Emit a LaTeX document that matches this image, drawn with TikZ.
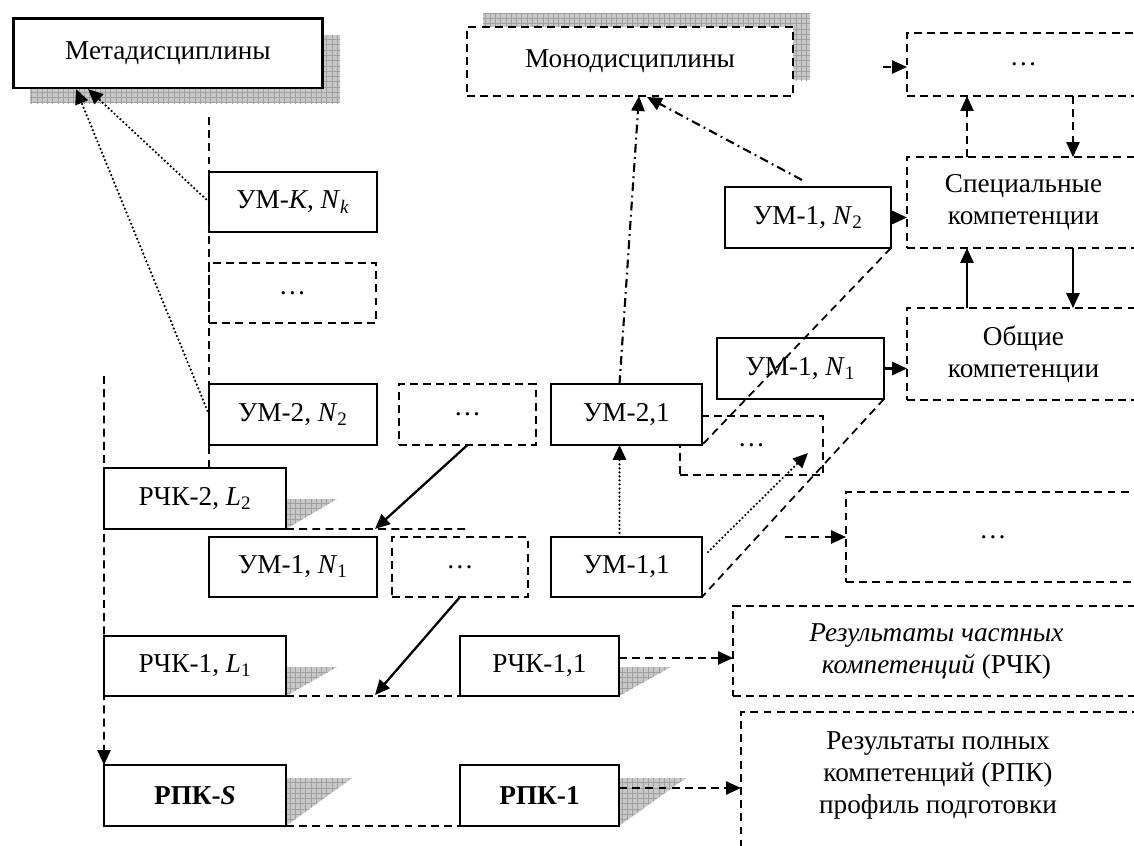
\documentclass[tikz,border=0pt]{standalone}
\usepackage{fontspec}
\setmainfont{Liberation Serif}
\usepackage{xcolor}
\definecolor{tengray}{RGB}{200, 200, 200}
\definecolor{setkagray}{RGB}{160, 160, 160}
\usetikzlibrary{arrows.meta, calc, patterns}

\begin{document}
\begin{tikzpicture}[x=0.02cm, y=-0.02cm, >={Triangle[length=8.5pt, width=7.5pt]},
    every node/.style={font=\fontsize{15.5}{18.2}\selectfont, inner sep=0pt, outer sep=0pt},
    solidbox/.style={draw, line width=1.1pt, fill=white, align=center},
    dashbox/.style={draw, line width=1pt, dash pattern=on 4.5pt off 3pt, fill=white, align=center},
    dashline/.style={line width=1pt, dash pattern=on 4.5pt off 3pt},
    dotline/.style={line width=1.4pt, line cap=round, dash pattern=on 0pt off 2.3pt},
    dashdotline/.style={line width=1.2pt, dash pattern=on 5pt off 2.5pt on 1pt off 2.5pt},
    shadowbox/.style={preaction={fill=tengray}, pattern=grid, pattern color=setkagray}]

\useasboundingbox (0,0) rectangle (1134,846);

% === Тени ===
\path[shadowbox] (30,35) rectangle (340,103);
\path[shadowbox] (483,13) rectangle (810,80);
\path[shadowbox] (286,499) -- (337,499) -- (286,529) -- cycle;
\path[shadowbox] (286,667) -- (337,667) -- (286,696) -- cycle;
\path[shadowbox] (286,778) -- (352,778) -- (286,826) -- cycle;
\path[shadowbox] (619,667) -- (671,667) -- (619,696) -- cycle;
\path[shadowbox] (619,778) -- (686,778) -- (619,826) -- cycle;

% === Дисциплины ===
\node[solidbox, line width=1.7pt, minimum width=6.2cm, minimum height=1.4cm] (meta) at (168,53) {Метадисциплины};
\node[dashbox, minimum width=6.52cm, minimum height=1.38cm] (mono) at (630,61.5) {Монодисциплины};

% === Компетенции (справа) ===
\node[dashbox, minimum width=4.66cm, minimum height=1.26cm] (topdots) at (1023.5,64.5) {…};
\node[dashbox, minimum width=4.66cm, minimum height=1.82cm] (spec) at (1023.5,202.5) {Специальные\\компетенции};
\node[dashbox, minimum width=4.66cm, minimum height=1.84cm] (obsh) at (1023.5,354) {Общие\\компетенции};

% === Учебные модули ===
\node[solidbox, minimum width=3.32cm, minimum height=1.22cm] (um1n2) at (808,217.5) {УМ-1, \textit{N}\textsubscript{2}};
\node[solidbox, minimum width=3.34cm, minimum height=1.22cm] (um1n1r) at (800.5,368.5) {УМ-1, \textit{N}\textsubscript{1}};
\node[dashbox, minimum width=2.86cm, minimum height=1.18cm] (dotsb) at (751.5,445.5) {…};
\node[solidbox, minimum width=3.02cm, minimum height=1.22cm] (um21) at (626.5,414.5) {УМ-2,1};
\node[solidbox, minimum width=3.02cm, minimum height=1.2cm] (um11) at (626.5,567) {УМ-1,1};
\node[dashbox, minimum width=2.74cm, minimum height=1.22cm] (dotsm) at (467.5,414.5) {…};
\node[dashbox, minimum width=2.72cm, minimum height=1.2cm] (dotsl) at (460,567) {…};

% левая колонка
\node[solidbox, minimum width=3.36cm, minimum height=1.2cm] (umk) at (293,202) {УМ-\textit{K}, \textit{N}\textsubscript{\textit{k}}};
\node[dashbox, minimum width=3.34cm, minimum height=1.2cm] (dotsk) at (292.5,293) {…};
\node[solidbox, minimum width=3.36cm, minimum height=1.22cm] (um2n2) at (293,414.5) {УМ-2, \textit{N}\textsubscript{2}};
\node[solidbox, minimum width=3.36cm, minimum height=1.2cm] (um1n1) at (293,567) {УМ-1, \textit{N}\textsubscript{1}};

% === Результаты ===
\node[solidbox, minimum width=3.64cm, minimum height=1.22cm] (rchk2) at (195,498.5) {РЧК-2, \textit{L}\textsubscript{2}};
\node[solidbox, minimum width=3.64cm, minimum height=1.2cm] (rchk1) at (195,666) {РЧК-1, \textit{L}\textsubscript{1}};
\node[solidbox, minimum width=3.64cm, minimum height=1.22cm] (rpks) at (195,795.5) {\textbf{РПК-\textit{S}}};
\node[solidbox, minimum width=3.18cm, minimum height=1.2cm] (rchk11) at (539.5,666) {РЧК-1,1};
\node[solidbox, minimum width=3.18cm, minimum height=1.22cm] (rpk1) at (539.5,795.5) {\textbf{РПК-1}};

\node[dashbox, minimum width=5.88cm, minimum height=1.8cm] (rightdots) at (993,537) {…};
\node[dashbox, minimum width=8.14cm, minimum height=1.8cm] (rchkres) at (936.5,651)
    {\textit{Результаты частных}\\\textit{компетенций} (РЧК)};
\node[dashbox, minimum width=7.98cm, minimum height=3.1cm, anchor=north west] (rpkres) at (741,712) {};
\node[align=center] (rpktext) at (938,775) {Результаты полных\\компетенций (РПК)\\профиль подготовки};

% === Связи ===
% вертикальные пунктиры
\coordinate (ltop) at (209,117);
\draw[dashline] (ltop) -- (ltop |- rchk2.north);
\coordinate (rtop) at (104,376);
\draw[dashline, ->] (rtop) -- (rpks.north west);

% горизонтальные пунктиры и стрелки к ним
\coordinate (rchk2end) at (468,529);
\coordinate (arrA) at (375,529);
\coordinate (arrB) at (375,695);
\draw[dashline] (rchk2.south east) -- (rchk2end);
\draw[dashline] (rchk1.south east) -- (rchk11.south west);
\draw[dashline] (rpks.south east) -- (rpk1.south west);
\draw[->, line width=1.3pt] (dotsm.south) -- (arrA);
\draw[->, line width=1.3pt] (dotsl.south) -- (arrB);

\draw[dashline, ->] ([yshift=0.16cm]rchk11.east) -- ([yshift=0.16cm]rchk11.east -| rchkres.west);
\draw[dashline, ->] ([yshift=0.15cm]rpk1.east) -- ([yshift=0.15cm]rpk1.east -| rpkres.west);
\coordinate (rdstart) at (785,537);
\draw[dashline, ->] (rdstart) -- (rightdots.west);

% точечные стрелки
\draw[dotline, ->] (umk.west) -- ($(meta.south)+(-80,1)$);
\draw[dotline, ->] (um2n2.west) -- ($(meta.south)+(-92,1)$);
\draw[dotline, ->] ([xshift=-0.14cm]um11.north) -- ([xshift=-0.14cm]um21.south);
\coordinate (dotsbin) at (808,453);
\draw[dotline, ->] ($(um11.north east)+(6,15)$) -- (dotsbin);

% штрихпунктир к монодисциплинам
\draw[dashdotline, ->] ([xshift=-0.14cm]um21.north) -- ($(mono.south)+(9,0)$);
\draw[dashdotline, ->] ($(um1n2.north)+(-6,-7)$) -- ($(mono.south)+(17,1)$);

% правая колонка
\coordinate (tdstart) at (883,67);
\draw[dashline, ->] (tdstart) -- (tdstart -| topdots.west);
\draw[->, line width=1.3pt] (um1n2.east) -- (um1n2.east -| spec.west);
\draw[->, line width=1.3pt] (um1n1r.east) -- (um1n1r.east -| obsh.west);
\draw[dashline, ->] ([xshift=1.2cm]spec.north west) -- ([xshift=1.2cm]topdots.south west);
\draw[dashline, ->] ([xshift=3.32cm]topdots.south west) -- ([xshift=3.32cm]spec.north west);
\draw[->, line width=1.3pt] ([xshift=1.2cm]obsh.north west) -- ([xshift=1.2cm]spec.south west);
\draw[->, line width=1.3pt] ([xshift=3.32cm]spec.south west) -- ([xshift=3.32cm]obsh.north west);

% диагонали
\draw[dashline] (um1n2.south east) -- (um21.south east);
\draw[dashline] (um1n1r.south east) -- (um11.south east);

\end{tikzpicture}
\end{document}
